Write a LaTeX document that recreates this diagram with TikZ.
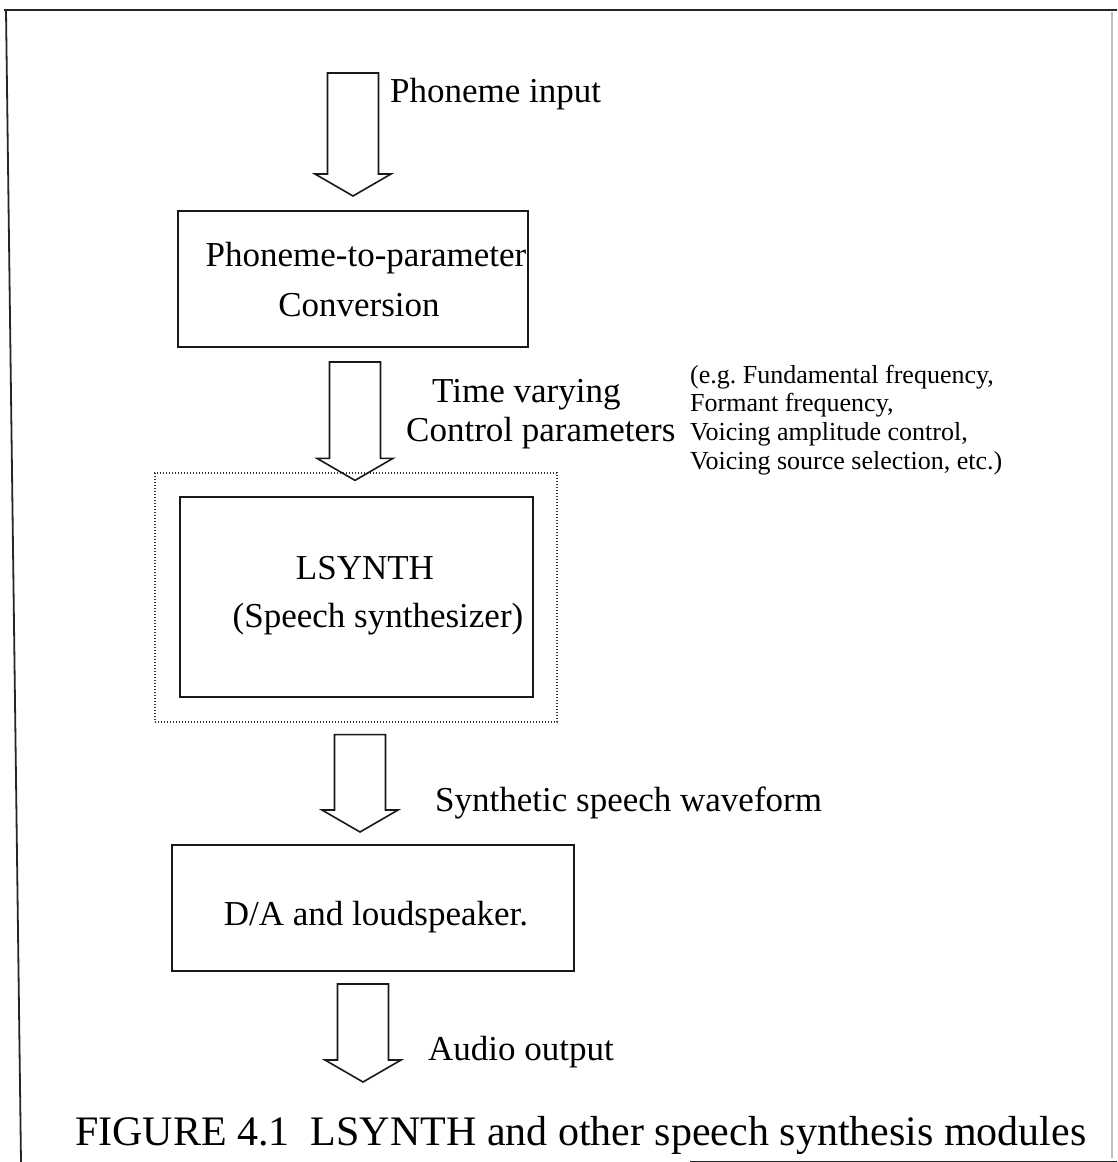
\documentclass[tikz,border=0pt]{standalone}
\usepackage{fontspec}
\setmainfont{Liberation Serif}
\usetikzlibrary{calc}
\frenchspacing

\tikzset{
  ink/.style={draw=black!90},
  blockbox/.style={ink, line width=2pt, rectangle, inner sep=0pt},
  zonebox/.style={draw=black!80, line width=1.3pt, dash pattern=on 1.4pt off 1.6pt, rectangle, inner sep=0pt},
  blockarrow/.style={ink, line width=1.6pt, line join=miter},
  lbl/.style={inner sep=0pt, anchor=base west, font=\fontsize{35}{40}\selectfont},
  clbl/.style={lbl, anchor=base},
  note/.style={inner sep=0pt, anchor=base west, font=\fontsize{26}{29}\selectfont},
  caption/.style={inner sep=0pt, anchor=base west, font=\fontsize{42}{48}\selectfont},
  frame/.style={draw=black!85, line width=1.8pt}
}

% hollow down-pointing block arrow from the top of its shaft (#1) to its tip (#2)
\newcommand\hollowarrow[2]{%
  \draw[blockarrow] let \p1=(#1), \p2=(#2) in
    (\x2-25.5pt,\y1) -- (\x2+25.5pt,\y1) -- (\x2+25.5pt,\y2+22pt)
    -- (\x2+38pt,\y2+22pt) -- (\x2,\y2) -- (\x2-38pt,\y2+22pt)
    -- (\x2-25.5pt,\y2+22pt) -- cycle;}

\begin{document}
\begin{tikzpicture}[x=1pt,y=-1pt]
  \useasboundingbox (0,0) rectangle (1117,1162);

  % outer frame
  \draw[frame] (4,10) -- (1117,10);
  \draw[frame] (6,10) -- (21,1162);
  \draw[draw=black!25, line width=1.2pt] (1112,12) -- (1112,1158);
  \draw[frame] (690,1161.5) -- (1117,1161.5);

  % blocks
  \node[blockbox, minimum width=350pt, minimum height=136pt] (conv) at (353,279) {};
  \node[zonebox, minimum width=402pt, minimum height=249pt] (zone) at (356,597.5) {};
  \node[blockbox, minimum width=353pt, minimum height=200pt] (lsynth) at (356.5,597) {};
  \node[blockbox, minimum width=402pt, minimum height=126pt] (dac) at (373,908) {};

  % block texts
  \node[clbl] (convA) at (366,266) {Phoneme-to-parameter};
  \node[clbl] (convB) at (359,316) {Conversion};
  \node[clbl] (lsA) at (365,579) {LSYNTH};
  \node[clbl] (lsB) at (378,627) {(Speech synthesizer)};
  \node[clbl] (dacA) at (376,925) {D/A and loudspeaker.};

  % arrow end points
  \coordinate (inTop) at (353,73);
  \path (conv.north) ++(0,-14) coordinate (inTip);
  \path (conv.south) ++(2,14) coordinate (parTop);
  \path (zone.north) ++(-1,8) coordinate (parTip);
  \path (zone.south) ++(4,12) coordinate (wavTop);
  \path (dac.north) ++(-13,-12) coordinate (wavTip);
  \path (dac.south) ++(-10,12) coordinate (outTop);
  \coordinate (outTip) at (363,1082);

  \hollowarrow{inTop}{inTip}
  \hollowarrow{parTop}{parTip}
  \hollowarrow{wavTop}{wavTip}
  \hollowarrow{outTop}{outTip}

  % arrow labels
  \node[lbl] (inLbl) at (390,102) {Phoneme input};
  \node[lbl] (parLbl1) at (432,402) {Time varying};
  \node[lbl] (parLbl2) at (406,441) {Control parameters};
  \node[note] (ex1) at (690,383) {(e.g. Fundamental frequency,};
  \node[note] (ex2) at (690,411) {Formant frequency,};
  \node[note] (ex3) at (690,440) {Voicing amplitude control,};
  \node[note] (ex4) at (690,469) {Voicing source selection, etc.)};
  \node[lbl] (wavLbl) at (435,811) {Synthetic speech waveform};
  \node[lbl] (outLbl) at (428,1060) {Audio output};

  % caption
  \node[caption] (cap) at (75,1145) {FIGURE 4.1\ \ LSYNTH and other speech synthesis modules};
\end{tikzpicture}
\end{document}
